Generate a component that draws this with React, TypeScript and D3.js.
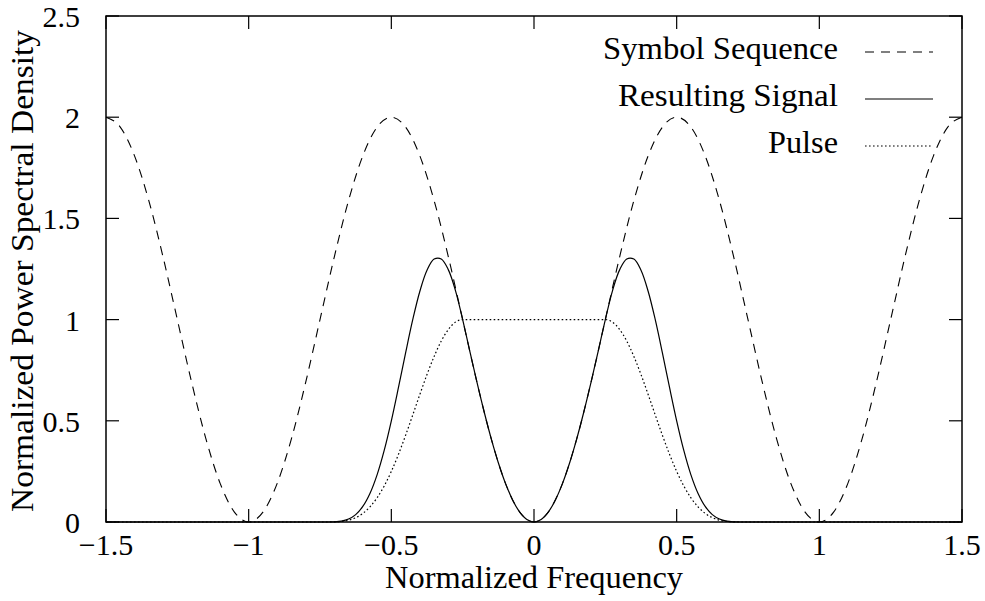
import React from "react";
import * as d3 from "d3";

// ---- data ----
const X_TICKS = [-1.5, -1, -0.5, 0, 0.5, 1, 1.5];
const X_TICK_LABELS = ["\u22121.5", "\u22121", "\u22120.5", "0", "0.5", "1", "1.5"];
const Y_TICKS = [0, 0.5, 1, 1.5, 2, 2.5];
const Y_TICK_LABELS = ["0", "0.5", "1", "1.5", "2", "2.5"];

const SYMBOL_FREQ = [
  -1.5, -1.45, -1.4, -1.35, -1.3, -1.25, -1.2, -1.15, -1.1, -1.05,
  -1.0, -0.95, -0.9, -0.85, -0.8, -0.75, -0.7, -0.65, -0.6, -0.55,
  -0.5, -0.45, -0.4, -0.35, -0.3, -0.25, -0.2, -0.15, -0.1, -0.05,
  0.0, 0.05, 0.1, 0.15, 0.2, 0.25, 0.3, 0.35, 0.4, 0.45,
  0.5, 0.55, 0.6, 0.65, 0.7, 0.75, 0.8, 0.85, 0.9, 0.95,
  1.0, 1.05, 1.1, 1.15, 1.2, 1.25, 1.3, 1.35, 1.4, 1.45, 1.5,
];
const SYMBOL_PSD = [
  2, 1.951, 1.809, 1.588, 1.309, 1, 0.691, 0.412, 0.191, 0.049,
  0, 0.049, 0.191, 0.412, 0.691, 1, 1.309, 1.588, 1.809, 1.951,
  2, 1.951, 1.809, 1.588, 1.309, 1, 0.691, 0.412, 0.191, 0.049,
  0, 0.049, 0.191, 0.412, 0.691, 1, 1.309, 1.588, 1.809, 1.951,
  2, 1.951, 1.809, 1.588, 1.309, 1, 0.691, 0.412, 0.191, 0.049,
  0, 0.049, 0.191, 0.412, 0.691, 1, 1.309, 1.588, 1.809, 1.951, 2,
];

const PULSE_FREQ = [
  -1.5,
  -0.75, -0.725, -0.7, -0.675, -0.65, -0.625, -0.6, -0.575, -0.55, -0.525,
  -0.5, -0.475, -0.45, -0.425, -0.4, -0.375, -0.35, -0.325, -0.3, -0.275,
  -0.25, -0.225, -0.2, -0.175, -0.15, -0.125, -0.1, -0.075, -0.05, -0.025,
  0,
  0.025, 0.05, 0.075, 0.1, 0.125, 0.15, 0.175, 0.2, 0.225, 0.25,
  0.275, 0.3, 0.325, 0.35, 0.375, 0.4, 0.425, 0.45, 0.475, 0.5,
  0.525, 0.55, 0.575, 0.6, 0.625, 0.65, 0.675, 0.7, 0.725, 0.75,
  1.5,
];
const PULSE_PSD = [
  0,
  0, 0.00004, 0.0006, 0.003, 0.0091, 0.0214, 0.0425, 0.0745, 0.1194, 0.1779,
  0.25, 0.3343, 0.4284, 0.5285, 0.6303, 0.7286, 0.8181, 0.894, 0.9517, 0.9877,
  1, 1, 1, 1, 1, 1, 1, 1, 1, 1,
  1,
  1, 1, 1, 1, 1, 1, 1, 1, 1, 1,
  0.9877, 0.9517, 0.894, 0.8181, 0.7286, 0.6303, 0.5285, 0.4284, 0.3343, 0.25,
  0.1779, 0.1194, 0.0745, 0.0425, 0.0214, 0.0091, 0.003, 0.0006, 0.00004, 0,
  0,
];
const SIGNAL_PSD = [
  0,
  0, 0.0000, 0.0008, 0.0043, 0.0145, 0.0366, 0.0768, 0.1409, 0.2329, 0.3536,
  0.5, 0.6646, 0.8358, 0.9994, 1.1402, 1.2437, 1.299, 1.2998, 1.2457, 1.1422,
  1.0, 0.8436, 0.691, 0.546, 0.4122, 0.2929, 0.191, 0.109, 0.0489, 0.0123,
  0,
  0.0123, 0.0489, 0.109, 0.191, 0.2929, 0.4122, 0.546, 0.691, 0.8436, 1.0,
  1.1422, 1.2457, 1.2998, 1.299, 1.2437, 1.1402, 0.9994, 0.8358, 0.6646, 0.5,
  0.3536, 0.2329, 0.1409, 0.0768, 0.0366, 0.0145, 0.0043, 0.0008, 0.0000, 0,
  0,
];

const LEGEND_LABELS = ["Symbol Sequence", "Resulting Signal", "Pulse"];

// ---- layout ----
const W = 985;
const H = 601;
const LEFT = 106;
const RIGHT = 962;
const TOP = 16;
const BOTTOM = 522;
const TICK = 13;
const FONT = "'Liberation Serif', 'Times New Roman', serif";
const FS = 31;
const TICK_FS = 30;

export default function App() {
  const x = d3.scaleLinear().domain([-1.5, 1.5]).range([LEFT, RIGHT]);
  const y = d3.scaleLinear().domain([0, 2.5]).range([BOTTOM, TOP]);

  const smooth = d3
    .line<[number, number]>()
    .x((d) => x(d[0]))
    .y((d) => y(d[1]))
    .curve(d3.curveCatmullRom.alpha(0.5));
  const mono = d3
    .line<[number, number]>()
    .x((d) => x(d[0]))
    .y((d) => y(d[1]))
    .curve(d3.curveMonotoneX);

  const symbolPts = SYMBOL_FREQ.map((f, i) => [f, SYMBOL_PSD[i]] as [number, number]);
  const pulsePts = PULSE_FREQ.map((f, i) => [f, PULSE_PSD[i]] as [number, number]);
  const signalPts = PULSE_FREQ.map((f, i) => [f, SIGNAL_PSD[i]] as [number, number]);

  const series = [
    { label: LEGEND_LABELS[0], d: mono(symbolPts), dash: "9 7", width: 1.1 },
    { label: LEGEND_LABELS[1], d: smooth(signalPts), dash: "none", width: 1.2 },
    { label: LEGEND_LABELS[2], d: mono(pulsePts), dash: "1.6 2.4", width: 1.2 },
  ];
  const legendWidths = [235, 220, 70];
  const legendLineY = [52, 99, 146];
  const legendTextY = [59, 106, 153];

  return (
    <svg
      width={W}
      height={H}
      viewBox={`0 0 ${W} ${H}`}
      style={{ position: "absolute", left: 0, top: 0, background: "#fff" }}
      fontFamily={FONT}
      fontSize={FS}
    >
      <rect x={0} y={0} width={W} height={H} fill="#fff" />

      {/* ticks */}
      {X_TICKS.map((t) => (
        <g key={"xt" + t}>
          <line x1={x(t)} x2={x(t)} y1={BOTTOM} y2={BOTTOM - TICK} stroke="#000" strokeWidth={1.2} />
          <line x1={x(t)} x2={x(t)} y1={TOP} y2={TOP + TICK} stroke="#000" strokeWidth={1.2} />
        </g>
      ))}
      {Y_TICKS.map((t) => (
        <g key={"yt" + t}>
          <line x1={LEFT} x2={LEFT + TICK} y1={y(t)} y2={y(t)} stroke="#000" strokeWidth={1.2} />
          <line x1={RIGHT} x2={RIGHT - TICK} y1={y(t)} y2={y(t)} stroke="#000" strokeWidth={1.2} />
        </g>
      ))}

      {/* tick labels */}
      {X_TICKS.map((t, i) => (
        <text key={"xl" + t} x={x(t)} y={555} textAnchor="middle" fill="#000" fontSize={TICK_FS}>
          {X_TICK_LABELS[i]}
        </text>
      ))}
      {Y_TICKS.map((t, i) => (
        <text key={"yl" + t} x={80} y={y(t) + 11} textAnchor="end" fill="#000" fontSize={TICK_FS}>
          {Y_TICK_LABELS[i]}
        </text>
      ))}

      {/* axis titles */}
      <text x={(LEFT + RIGHT) / 2} y={588} textAnchor="middle" fill="#000" textLength={298} lengthAdjust="spacingAndGlyphs">
        Normalized Frequency
      </text>
      <text
        transform={`translate(33, ${(TOP + BOTTOM) / 2 + 2}) rotate(-90)`}
        textAnchor="middle"
        fill="#000"
        textLength={482}
        lengthAdjust="spacingAndGlyphs"
      >
        Normalized Power Spectral Density
      </text>

      {/* curves */}
      {series.map((s) => (
        <path
          key={"c" + s.label}
          d={s.d || ""}
          fill="none"
          stroke="#000"
          strokeWidth={s.width}
          strokeDasharray={s.dash}
        />
      ))}

      {/* legend */}
      {series.map((s, i) => (
        <g key={"lg" + s.label}>
          <text
            x={838}
            y={legendTextY[i]}
            textAnchor="end"
            fill="#000"
            textLength={legendWidths[i]}
            lengthAdjust="spacingAndGlyphs"
          >
            {s.label}
          </text>
          <line
            x1={865}
            x2={933}
            y1={legendLineY[i]}
            y2={legendLineY[i]}
            stroke="#000"
            strokeWidth={s.width}
            strokeDasharray={s.dash}
          />
        </g>
      ))}

      {/* frame */}
      <rect x={LEFT} y={TOP} width={RIGHT - LEFT} height={BOTTOM - TOP} fill="none" stroke="#000" strokeWidth={1.5} />
    </svg>
  );
}
